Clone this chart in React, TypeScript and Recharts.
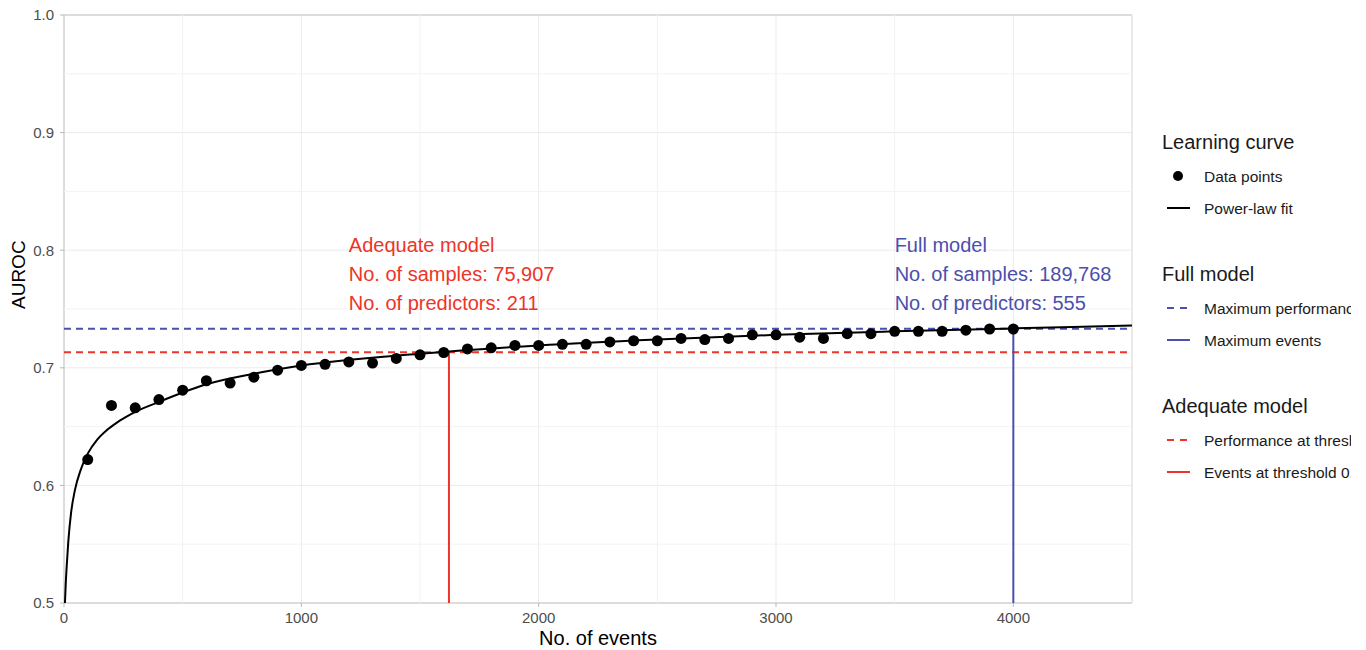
import React from 'react';
import {
  ComposedChart, Line, Scatter, XAxis, YAxis, CartesianGrid, ReferenceLine,
  ReferenceDot, ReferenceArea,
} from 'recharts';

// ---- data ----
const pointEvents = [100, 200, 300, 400, 500, 600, 700, 800, 900, 1000, 1100, 1200, 1300, 1400, 1500, 1600, 1700, 1800, 1900, 2000, 2100, 2200, 2300, 2400, 2500, 2600, 2700, 2800, 2900, 3000, 3100, 3200, 3300, 3400, 3500, 3600, 3700, 3800, 3900, 4000];
const pointAuroc = [0.622, 0.668, 0.666, 0.673, 0.681, 0.689, 0.687, 0.692, 0.698, 0.702, 0.703, 0.705, 0.704, 0.708, 0.711, 0.713, 0.716, 0.717, 0.719, 0.719, 0.720, 0.720, 0.722, 0.723, 0.723, 0.725, 0.724, 0.725, 0.728, 0.728, 0.726, 0.725, 0.729, 0.729, 0.731, 0.731, 0.731, 0.732, 0.733, 0.733];

const fitEvents = [4, 7, 11, 18, 30, 46, 70, 100, 140, 180, 220, 260, 300, 400, 500, 600, 800, 1000, 1500, 2000, 2500, 3000, 3500, 4000, 4500];
const fitAuroc = [0.500, 0.515, 0.530, 0.552, 0.577, 0.596, 0.613, 0.627, 0.639, 0.647, 0.653, 0.658, 0.6625, 0.671, 0.679, 0.686, 0.695, 0.702, 0.712, 0.719, 0.724, 0.728, 0.731, 0.7335, 0.736];

const xTicks = [0, 1000, 2000, 3000, 4000];
const xMinor = [500, 1500, 2500, 3500, 4500];
const yTicks = [0.5, 0.6, 0.7, 0.8, 0.9, 1.0];
const yMinor = [0.55, 0.65, 0.75, 0.85, 0.95];

const fullPerformance = 0.7333;
const fullEvents = 4000;
const adequatePerformance = 0.7132;
const adequateEvents = 1622;

const adequateText = ['Adequate model', 'No. of samples: 75,907', 'No. of predictors: 211'];
const fullText = ['Full model', 'No. of samples: 189,768', 'No. of predictors: 555'];
const textLineY = [0.8044, 0.7798, 0.7551];
const adequateTextX = 1200;
const fullTextX = 3500;

const RED = '#EE3428';
const BLUE = '#4B4FAE';

const points = pointEvents.map((x, i) => ({ x, y: pointAuroc[i] }));
const fit = fitEvents.map((x, i) => ({ x, y: fitAuroc[i] }));

const legendGroups = [
  { title: 'Learning curve', items: [
    { kind: 'dot', color: '#000', label: 'Data points' },
    { kind: 'line', color: '#000', label: 'Power-law fit' },
  ] },
  { title: 'Full model', items: [
    { kind: 'dash', color: BLUE, label: 'Maximum performance' },
    { kind: 'line', color: BLUE, label: 'Maximum events' },
  ] },
  { title: 'Adequate model', items: [
    { kind: 'dash', color: RED, label: 'Performance at threshold 0.02' },
    { kind: 'line', color: RED, label: 'Events at threshold 0.02' },
  ] },
];

const LegendBlock = () => {
  const els: React.ReactNode[] = [];
  let y = 0;
  legendGroups.forEach((g, gi) => {
    els.push(<text key={'t' + gi} x={0} y={y} fontSize={20} fill="#1a1a1a" dominantBaseline="central">{g.title}</text>);
    y += 34;
    g.items.forEach((it, ii) => {
      if (it.kind === 'dot') els.push(<circle key={`s${gi}${ii}`} cx={16} cy={y} r={5} fill={it.color} />);
      else els.push(<line key={`s${gi}${ii}`} x1={5} x2={28} y1={y} y2={y} stroke={it.color} strokeWidth={2} strokeDasharray={it.kind === 'dash' ? '7 6' : undefined} />);
      els.push(<text key={`l${gi}${ii}`} x={42} y={y} fontSize={15.5} fill="#1a1a1a" dominantBaseline="central">{it.label}</text>);
      y += 32;
    });
    y += 34;
  });
  return (
    <svg width={260} height={400} style={{ position: 'absolute', left: 1162, top: 122, overflow: 'visible' }}>
      <g transform="translate(0,20)">{els}</g>
    </svg>
  );
};

const makeTextShape = (lines: string[], color: string, idx: number) => (props: any) => (
  <text x={props.cx} y={props.cy} fill={color} fontSize={20} dominantBaseline="central" textAnchor="start">{lines[idx]}</text>
);

export default function App() {
  return (
    <div style={{ position: 'absolute', left: 0, top: 0, width: 1351, height: 650, overflow: 'hidden', background: '#fff', fontFamily: '"Liberation Sans", Arial, sans-serif' }}>
      <ComposedChart width={1366} height={650} margin={{ top: 15, right: 234, bottom: 0, left: 0 }}>
        <CartesianGrid stroke="#ebebeb" strokeWidth={1} horizontalValues={yTicks} verticalValues={xTicks} />
        {xMinor.map((v) => <ReferenceLine key={'xm' + v} x={v} stroke="#f3f3f3" strokeWidth={1} />)}
        {yMinor.map((v) => <ReferenceLine key={'ym' + v} y={v} stroke="#f3f3f3" strokeWidth={1} />)}
        <XAxis
          dataKey="x" type="number" domain={[0, 4500]} ticks={xTicks} allowDataOverflow
          height={47} axisLine={false} tickLine={{ stroke: '#b8b8b8' }} tickSize={4} tickMargin={5}
          tick={{ fill: '#4d4d4d', fontSize: 15 }}
          label={{ value: 'No. of events', position: 'insideBottom', offset: 5, fill: '#000', fontSize: 20 }}
        />
        <YAxis
          dataKey="y" type="number" domain={[0.5, 1]} ticks={yTicks} allowDataOverflow
          width={64} axisLine={false} tickLine={{ stroke: '#b8b8b8' }} tickSize={4} tickMargin={6}
          tick={{ fill: '#4d4d4d', fontSize: 15 }} tickFormatter={(v: number) => v.toFixed(1)}
          label={{ value: 'AUROC', angle: -90, position: 'insideLeft', offset: 18, fill: '#000', fontSize: 19 }}
        />
        <ReferenceArea x1={0} x2={4500} y1={0.5} y2={1} fill="none" stroke="#c4c4c4" strokeWidth={1} />
        <ReferenceLine y={fullPerformance} stroke={BLUE} strokeWidth={2} strokeDasharray="7 5" />
        <ReferenceLine y={adequatePerformance} stroke={RED} strokeWidth={2} strokeDasharray="7 5" />
        <ReferenceLine segment={[{ x: adequateEvents, y: 0.5 }, { x: adequateEvents, y: adequatePerformance }]} stroke={RED} strokeWidth={2} />
        <ReferenceLine segment={[{ x: fullEvents, y: 0.5 }, { x: fullEvents, y: fullPerformance }]} stroke={BLUE} strokeWidth={2} />
        {adequateText.map((t, i) => (
          <ReferenceDot key={'a' + i} x={adequateTextX} y={textLineY[i]} r={0} shape={makeTextShape(adequateText, RED, i)} />
        ))}
        {fullText.map((t, i) => (
          <ReferenceDot key={'f' + i} x={fullTextX} y={textLineY[i]} r={0} shape={makeTextShape(fullText, BLUE, i)} />
        ))}
        <Line data={fit} dataKey="y" type="monotone" stroke="#000" strokeWidth={2} dot={false} isAnimationActive={false} legendType="none" />
        <Scatter data={points} dataKey="y" fill="#000" isAnimationActive={false}
          shape={(p: any) => <circle cx={p.cx} cy={p.cy} r={5.5} fill="#000" />} />
      </ComposedChart>
      <LegendBlock />
    </div>
  );
}
